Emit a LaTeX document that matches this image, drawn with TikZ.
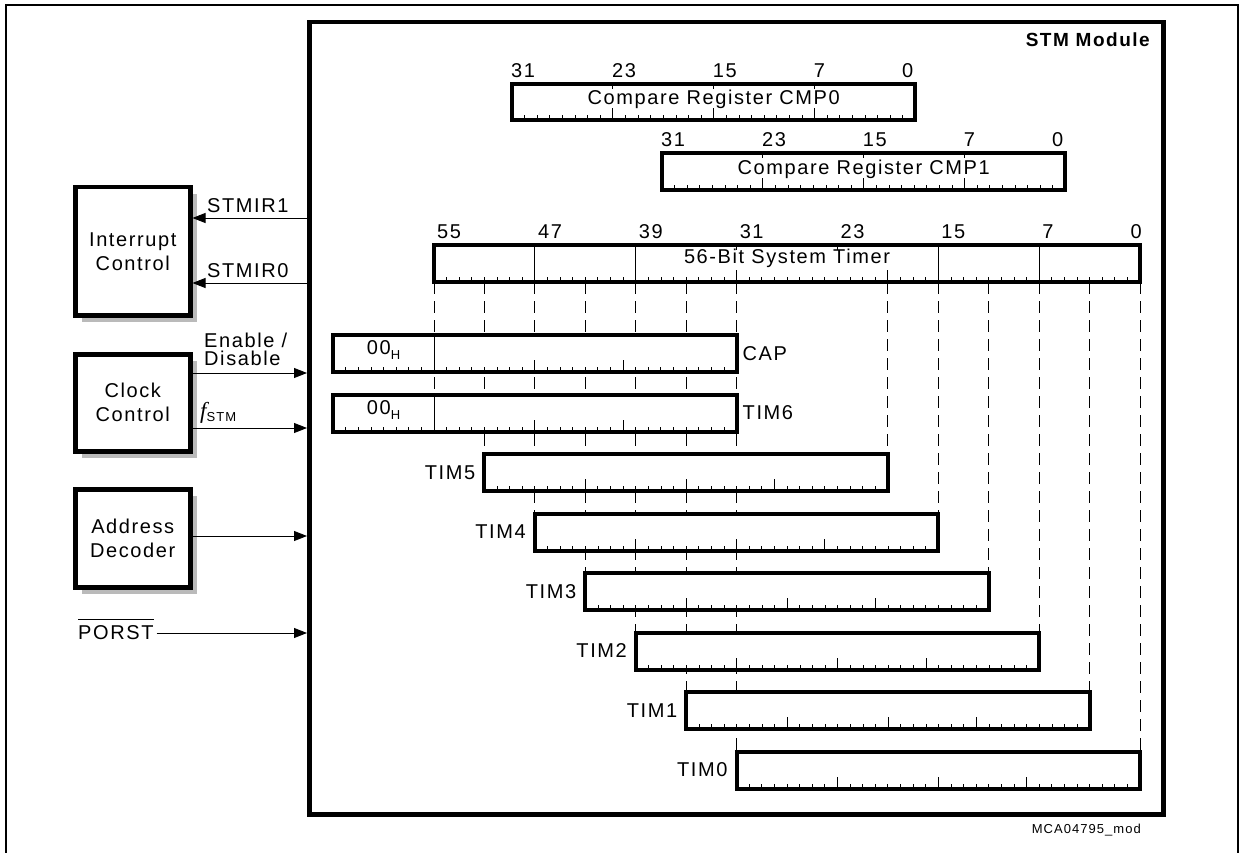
\documentclass[tikz,border=0pt]{standalone}
\usepackage{fontspec}
\setmainfont{Liberation Sans}
\newfontfamily\lab{Liberation Sans}[LetterSpace=8]
\newfontfamily\serifit{Liberation Serif}
\usetikzlibrary{arrows.meta,shadows,backgrounds}
\def\w{12.607}
\newcommand\regticks[3]{%
  \foreach \i in {1,...,#2} \draw[tk] ([xshift=\i*\w*1pt]#1.south west) -- ++(0,-5);
  \foreach \i in {#3} \draw[tk] ([xshift=\i*\w*1pt]#1.south west) -- ++(0,-12);
}
\begin{document}
\begin{tikzpicture}[x=1pt,y=-1pt,
  every node/.style={font=\lab\fontsize{20}{24}\selectfont, inner sep=0pt},
  reg/.style={draw, line width=4pt, fill=white, minimum height=37pt, outer sep=0pt, anchor=north west},
  blk/.style={draw, line width=4.5pt, fill=white, minimum width=115pt, anchor=north west, align=center,
    drop shadow={shadow xshift=7pt, shadow yshift=-7pt, fill=black!27, opacity=1}},
  tk/.style={line width=0.8pt},
  dsh/.style={line width=0.8pt, dash pattern=on 12pt off 7pt},
  arr/.style={line width=0.9pt, -{Triangle[length=13pt,width=10pt]}},
]
\useasboundingbox (0,0) rectangle (1244,853);
% outer frame
\draw[line width=2pt] (6,870) -- (6,5) -- (1238,5) -- (1238,870);
% STM module
\node[draw, line width=4.5pt, minimum width=854pt, minimum height=792pt, anchor=north west] (stm) at (307,20) {};
\node[anchor=base east, font=\lab\bfseries\fontsize{19}{24}\selectfont] (stmt) at (1150,47) {STM Module};
\node[anchor=base east, font=\lab\fontsize{13}{14}\selectfont] (mca) at (1141,833) {MCA04795\_mod};

% registers
\node[reg, minimum width=403.4pt, minimum height=36pt] (cmp0) at (512,84) {};
\node[reg, minimum width=403.4pt] (cmp1) at (662,153) {};
\node[reg, minimum width=706pt] (tmr) at (434,245) {};
\node[reg, minimum width=403.4pt] (cap) at (333.1,335) {};
\node[reg, minimum width=403.4pt] (tim6) at (333.1,394.5) {};
\node[reg, minimum width=403.4pt] (tim5) at (484.4,454) {};
\node[reg, minimum width=403.4pt] (tim4) at (534.9,513.5) {};
\node[reg, minimum width=403.4pt] (tim3) at (585.4,573) {};
\node[reg, minimum width=403.4pt] (tim2) at (636.0,632.5) {};
\node[reg, minimum width=403.4pt] (tim1) at (686.4,692) {};
\node[reg, minimum width=403.4pt] (tim0) at (736.6,751.5) {};

% dashed projection lines
\begin{pgfonlayer}{background}
\foreach \i/\t in {0/tim6,4/tim5,8/tim4,12/tim3,16/tim2,20/tim1,24/tim0,36/tim5,40/tim4,44/tim3,48/tim2,52/tim1,56/tim0}{
  \path ([xshift=\i*\w*1pt]tmr.south west) coordinate (d);
  \draw[dsh] (d) -- (d |- \t.north);
}
\end{pgfonlayer}

% ticks
\regticks{cmp0}{31}{8,16,24}
\regticks{cmp1}{31}{8,16,24}
\foreach \r in {cmp0,cmp1}
  \foreach \i in {8,16,24} \draw[tk] ([xshift=\i*\w*1pt]\r.north west) -- ++(0,5);
\regticks{tmr}{55}{24,36}
\foreach \i in {8,16,40,48} \draw[tk] ([xshift=\i*\w*1pt]tmr.south west) -- ([xshift=\i*\w*1pt]tmr.north west);
\foreach \i in {24,32} \draw[tk] ([xshift=\i*\w*1pt]tmr.north west) -- ++(0,5);
\foreach \r in {cap,tim6}{
  \regticks{\r}{31}{16,23}
  \draw[tk] ([xshift=8*\w*1pt]\r.south west) -- ([xshift=8*\w*1pt]\r.north west);
}
\foreach \r in {tim5,tim4,tim3,tim2,tim1,tim0} {\regticks{\r}{31}{8,16,23}}

% bit labels
\foreach \i/\b in {0/31,8/23,16/15,24/7,31/0}{
  \node[anchor=base west] (c0l\b) at ([xshift=\i*\w*1pt-1pt, yshift=6.5pt]cmp0.north west) {\b};
  \node[anchor=base west] (c1l\b) at ([xshift=\i*\w*1pt-1pt, yshift=6.5pt]cmp1.north west) {\b};
}
\foreach \i/\b in {0/55,8/47,16/39,24/31,32/23,40/15,48/7,55/0}
  \node[anchor=base west] (tl\b) at ([xshift=\i*\w*1pt+3pt, yshift=7pt]tmr.north west) {\b};

% register texts
\node (cmp0t) at ([yshift=2.5pt]cmp0.center) {Compare Register CMP0};
\node (cmp1t) at ([yshift=2.5pt]cmp1.center) {Compare Register CMP1};
\node (tmrt) at ([yshift=5pt]tmr.center) {56-Bit System Timer};
\foreach \r in {cap,tim6}
  \node (\r h) at ([xshift=4*\w*1pt, yshift=3pt]\r.west) {00\raisebox{-5pt}{\lab\fontsize{13}{13}\selectfont H}};
\node[anchor=west] (capl) at ([xshift=6pt]cap.east) {CAP};
\node[anchor=west] (tim6l) at ([xshift=6pt]tim6.east) {TIM6};
\foreach \r/\t in {tim5/TIM5,tim4/TIM4,tim3/TIM3,tim2/TIM2,tim1/TIM1,tim0/TIM0}
  \node[anchor=east] (\r l) at ([xshift=-9pt]\r.west) {\t};

% left blocks
\node[blk, minimum height=128pt] (intc) at (73,185) {Interrupt\\Control};
\node[blk, minimum height=97pt] (clk) at (73,352) {Clock\\Control};
\node[blk, minimum height=98pt] (adr) at (73,487) {Address\\Decoder};

% connectors
\coordinate (y1) at (0,218);
\coordinate (y2) at (0,283);
\coordinate (y3) at (0,373);
\coordinate (y4) at (0,428);
\coordinate (y5) at (0,536);
\coordinate (y6) at (0,633);
\draw[arr] (stm.west |- y1) -- (intc.east |- y1);
\draw[arr] (stm.west |- y2) -- (intc.east |- y2);
\draw[arr] (clk.east |- y3) -- (stm.west |- y3);
\draw[arr] (clk.east |- y4) -- (stm.west |- y4);
\draw[arr] (adr.east |- y5) -- (stm.west |- y5);
\node[anchor=base west] (stmir1) at (207,212) {STMIR1};
\node[anchor=base west] (stmir0) at (207,277) {STMIR0};
\node[anchor=south west, align=left, font=\lab\fontsize{20}{18}\selectfont] (en) at (204,366) {Enable /\\Disable};
\node[anchor=base west] (fstm) at (200,418) {{\serifit\itshape\fontsize{23}{23}\selectfont f}\raisebox{-3pt}{\lab\fontsize{13}{13}\selectfont STM}};
\node[anchor=west] (porst) at (78,633) {PORST};
\draw[line width=0.9pt] ([yshift=6pt]porst.north west) -- ([yshift=6pt]porst.north east);
\draw[arr] ([xshift=3pt]porst.east) -- (stm.west |- y6);
\end{tikzpicture}
\end{document}
